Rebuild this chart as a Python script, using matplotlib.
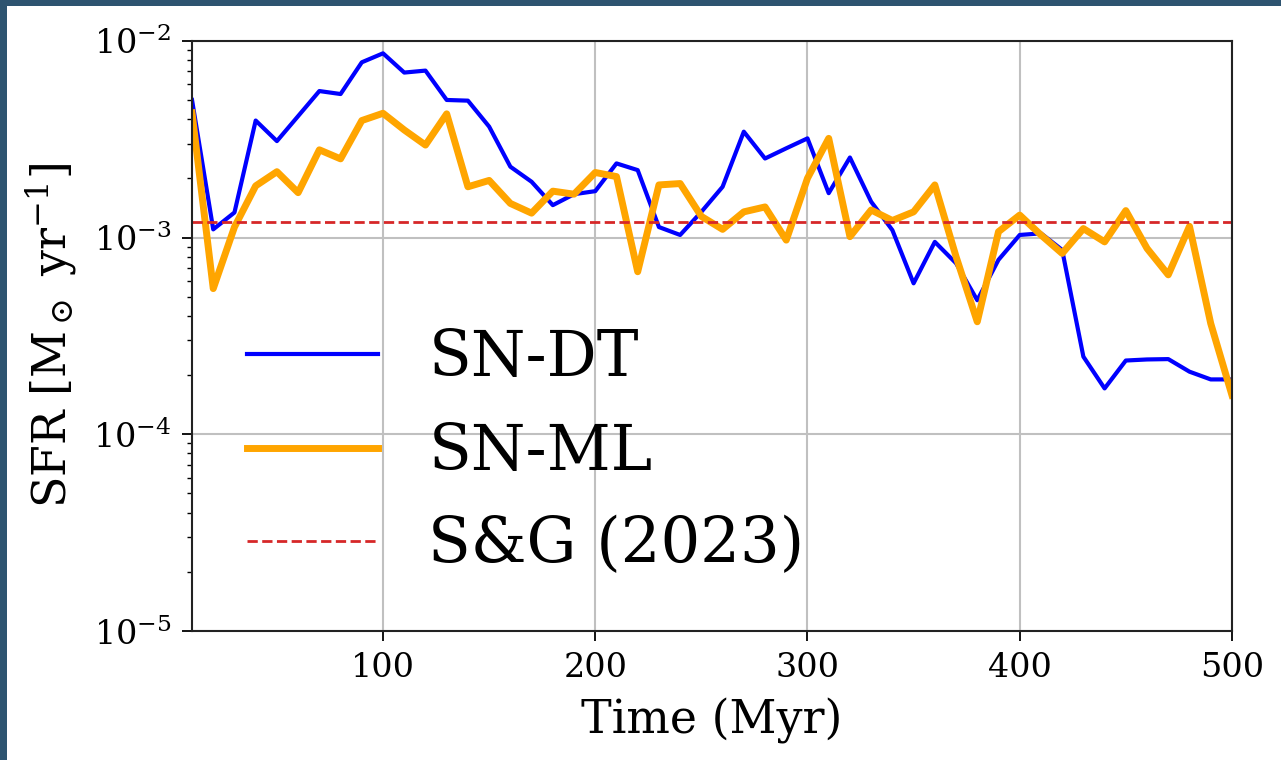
import matplotlib
matplotlib.use("Agg")
import matplotlib.pyplot as plt
from matplotlib.patches import Rectangle
import numpy as np

time_myr = list(range(10, 510, 10))

sfr_sn_dt = [5.0e-3, 1.10e-3, 1.34e-3, 3.93e-3, 3.09e-3, 4.14e-3, 5.55e-3, 5.36e-3, 7.77e-3, 8.63e-3,
             6.89e-3, 7.05e-3, 5.0e-3, 4.96e-3, 3.66e-3, 2.29e-3, 1.92e-3, 1.46e-3, 1.66e-3, 1.72e-3,
             2.38e-3, 2.20e-3, 1.13e-3, 1.03e-3, 1.35e-3, 1.81e-3, 3.45e-3, 2.52e-3, 2.84e-3, 3.19e-3,
             1.68e-3, 2.55e-3, 1.52e-3, 1.09e-3, 5.85e-4, 9.5e-4, 7.4e-4, 4.8e-4, 7.7e-4, 1.03e-3,
             1.05e-3, 8.65e-4, 2.48e-4, 1.71e-4, 2.37e-4, 2.40e-4, 2.41e-4, 2.08e-4, 1.90e-4, 1.90e-4]

sfr_sn_ml = [4.3e-3, 5.5e-4, 1.13e-3, 1.83e-3, 2.16e-3, 1.69e-3, 2.79e-3, 2.51e-3, 3.93e-3, 4.28e-3,
             3.52e-3, 2.95e-3, 4.25e-3, 1.81e-3, 1.95e-3, 1.49e-3, 1.33e-3, 1.72e-3, 1.66e-3, 2.14e-3,
             2.04e-3, 6.7e-4, 1.85e-3, 1.88e-3, 1.28e-3, 1.10e-3, 1.35e-3, 1.43e-3, 9.7e-4, 2.0e-3,
             3.19e-3, 1.01e-3, 1.38e-3, 1.22e-3, 1.35e-3, 1.85e-3, 8.0e-4, 3.73e-4, 1.07e-3, 1.30e-3,
             1.03e-3, 8.3e-4, 1.11e-3, 9.5e-4, 1.37e-3, 8.8e-4, 6.46e-4, 1.14e-3, 3.66e-4, 1.58e-4]

sfr_sg2023 = 1.2e-3

labels = ["SN-DT", "SN-ML", "S&G (2023)"]

plt.rcParams['font.family'] = ['DejaVu Serif']
plt.rcParams['mathtext.fontset'] = 'dejavuserif'

fig = plt.figure(figsize=(12.81, 7.6), dpi=100, facecolor='white')
ax = fig.add_axes([0.1499, 0.1697, 0.9617 - 0.1499, 0.9464 - 0.1697])

ax.plot(time_myr, sfr_sn_dt, color='blue', lw=3.0, label=labels[0])
ax.plot(time_myr, sfr_sn_ml, color='orange', lw=5.0, label=labels[1])
ax.axhline(sfr_sg2023, color='tab:red', lw=2.0, ls='--', label=labels[2])

ax.set_yscale('log')
ax.set_ylim(1e-5, 1e-2)
ax.set_xlim(10, 500)
ax.set_xticks([100, 200, 300, 400, 500])

ax.grid(True, which='major', color='#c0c0c0', lw=1.5)
ax.set_axisbelow(True)

ax.tick_params(axis='both', which='major', labelsize=24, length=7, width=1.3, direction='out', pad=8)
ax.tick_params(axis='y', which='minor', length=3.5, width=1.0)
for s in ax.spines.values():
    s.set_linewidth(1.5)
    s.set_color('#222222')

ax.set_xlabel('Time (Myr)', fontsize=33, labelpad=10)
ax.set_ylabel(r'SFR [M$_\odot$ yr$^{-1}$]', fontsize=33, labelpad=10)

leg = ax.legend(loc='center left', bbox_to_anchor=(0.053, 0.303), frameon=False,
                fontsize=45, handlelength=2.1, handletextpad=0.8, labelspacing=0.52,
                borderpad=0, borderaxespad=0)

border = '#2e5470'
fig.patches.append(Rectangle((0, 0), 7 / 1281, 1, transform=fig.transFigure,
                             facecolor=border, edgecolor='none', zorder=10))
fig.patches.append(Rectangle((0, 1 - 6 / 760), 1, 6 / 760, transform=fig.transFigure,
                             facecolor=border, edgecolor='none', zorder=10))

fig.savefig('out.png', dpi=100, facecolor='white')
